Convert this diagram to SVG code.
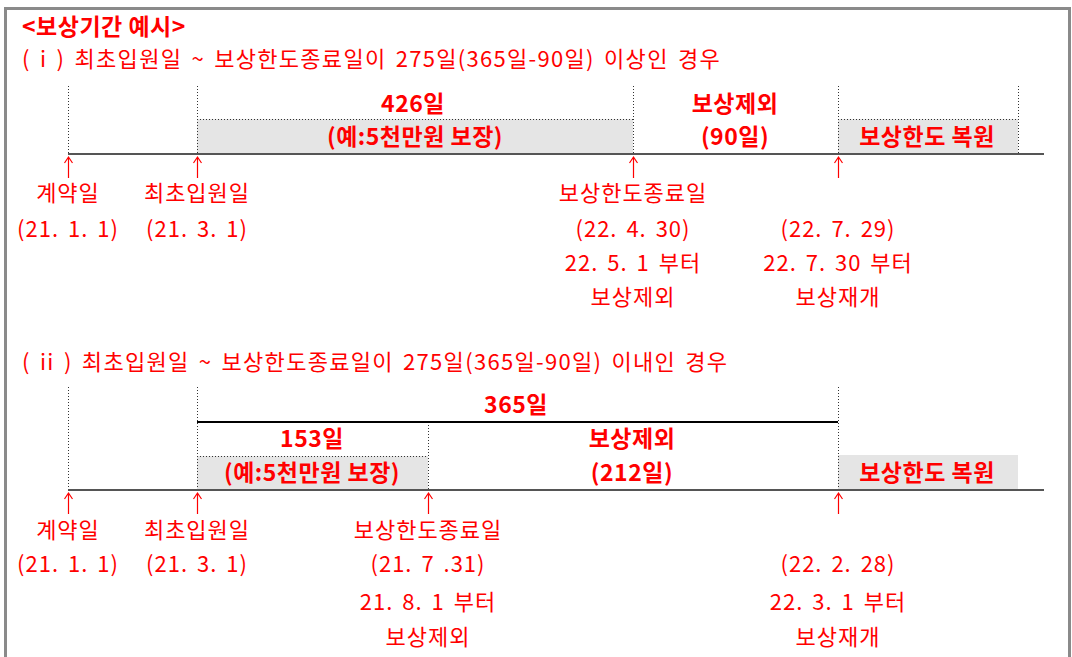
<svg xmlns="http://www.w3.org/2000/svg" width="1072" height="657" viewBox="0 0 1072 657">
<style>
.t{font-family:"Noto Sans CJK KR","Liberation Sans",sans-serif;fill:#ff0000;font-size:22px;letter-spacing:1px;word-spacing:3px}
.s{letter-spacing:1.3px;word-spacing:3px}
.b{font-family:"Noto Sans CJK KR","Liberation Sans",sans-serif;fill:#ff0000;font-size:23px;font-weight:bold;letter-spacing:0.5px}
.m{text-anchor:middle}
.dot{stroke:#333;stroke-width:1;stroke-dasharray:1 2;fill:none}
.tl{stroke:#555;stroke-width:2;fill:none}
.box{fill:#e5e5e5}
.arr{stroke:#ff0000;stroke-width:1.2;fill:none}
</style>
<defs>
<path id="arr" class="arr" d="M0,21 V0 M-4,6 L0,0 L4,6"/>
</defs>
<rect x="5.5" y="8.5" width="1064" height="660" fill="#fff" stroke="#8a8a8a" stroke-width="3"/>

<g id="titles">
<text class="b" x="22" y="35">&lt;보상기간 예시&gt;</text>
<text class="t s" x="22" y="67">( i ) 최초입원일 ~ 보상한도종료일이 275일(365일-90일) 이상인 경우</text>
<text class="t s" x="22" y="370">( ii ) 최초입원일 ~ 보상한도종료일이 275일(365일-90일) 이내인 경우</text>
</g>

<g id="case1">
<g id="c1-boxes">
<rect class="box" x="197" y="119" width="436" height="35"/>
<rect class="box" x="838" y="119" width="180" height="35"/>
<path class="dot" d="M197,119.5 H633 M838,119.5 H1018"/>
</g>
<g id="c1-labels">
<text class="b m" x="413" y="112">426일</text>
<text class="b m" x="415" y="145">(예:5천만원 보장)</text>
<text class="b m" x="735" y="112">보상제외</text>
<text class="b m" x="735" y="145">(90일)</text>
<text class="b m" x="927" y="145">보상한도 복원</text>
</g>
<g id="c1-dates">
<text class="t m" x="68" y="201">계약일</text>
<text class="t m" x="68" y="237">(21. 1. 1)</text>
<text class="t m" x="197" y="201">최초입원일</text>
<text class="t m" x="197" y="237">(21. 3. 1)</text>
<text class="t m" x="633" y="201">보상한도종료일</text>
<text class="t m" x="633" y="237">(22. 4. 30)</text>
<text class="t m" x="633" y="271">22. 5. 1 부터</text>
<text class="t m" x="633" y="305">보상제외</text>
<text class="t m" x="838" y="237">(22. 7. 29)</text>
<text class="t m" x="838" y="271">22. 7. 30 부터</text>
<text class="t m" x="838" y="305">보상재개</text>
</g>
</g>

<g id="case2">
<g id="c2-boxes">
<rect class="box" x="197" y="456" width="231" height="34"/>
<rect class="box" x="838" y="455" width="180" height="35"/>
<path class="dot" d="M197,456.5 H428"/>
</g>
<g id="c2-labels">
<text class="b m" x="516" y="413">365일</text>
<text class="b m" x="312" y="447">153일</text>
<text class="b m" x="312" y="481">(예:5천만원 보장)</text>
<text class="b m" x="632" y="447">보상제외</text>
<text class="b m" x="632" y="481">(212일)</text>
<text class="b m" x="927" y="481">보상한도 복원</text>
</g>
<g id="c2-dates">
<text class="t m" x="68" y="538">계약일</text>
<text class="t m" x="68" y="572">(21. 1. 1)</text>
<text class="t m" x="197" y="538">최초입원일</text>
<text class="t m" x="197" y="572">(21. 3. 1)</text>
<text class="t m" x="428" y="538">보상한도종료일</text>
<text class="t m" x="428" y="572">(21. 7 .31)</text>
<text class="t m" x="428" y="610">21. 8. 1 부터</text>
<text class="t m" x="428" y="645">보상제외</text>
<text class="t m" x="838" y="572">(22. 2. 28)</text>
<text class="t m" x="838" y="610">22. 3. 1 부터</text>
<text class="t m" x="838" y="645">보상재개</text>
</g>
</g>

<g id="connectors">
<path class="dot" d="M68.5,86 V154 M197.5,86 V154 M633.5,86 V154 M838.5,86 V154 M1018.5,86 V154"/>
<path class="tl" d="M68,154 H1044"/>
<path class="dot" d="M68.5,387 V490 M197.5,387 V490 M428.5,422 V490 M838.5,387 V490"/>
<path d="M197,422 H838" stroke="#000" stroke-width="2" fill="none"/>
<path class="tl" d="M68,490 H1044"/>
<use href="#arr" x="68.5" y="157"/>
<use href="#arr" x="197.5" y="157"/>
<use href="#arr" x="633.5" y="157"/>
<use href="#arr" x="838.5" y="157"/>
<use href="#arr" x="68.5" y="493"/>
<use href="#arr" x="197.5" y="493"/>
<use href="#arr" x="428.5" y="493"/>
<use href="#arr" x="838.5" y="493"/>
</g>
</svg>
